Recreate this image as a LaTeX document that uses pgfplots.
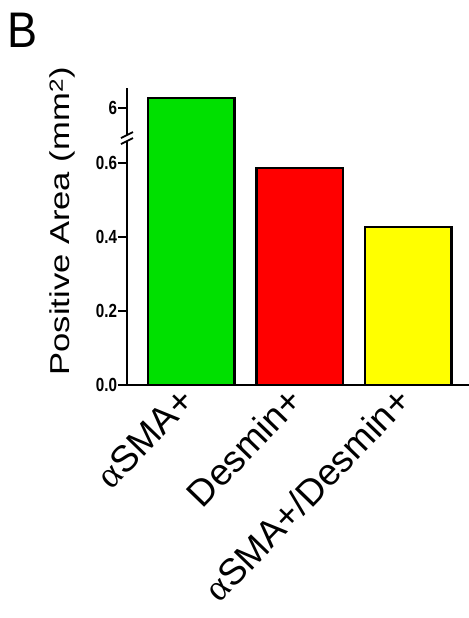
\documentclass[border=0pt]{standalone}
\usepackage{fontspec}
\setmainfont{Liberation Sans}
\newfontfamily\greekfont{Liberation Serif}
\usepackage{graphicx}
\usepackage{pgfplots}
\pgfplotsset{compat=1.18}
\definecolor{bargreen}{RGB}{0,224,0}
\definecolor{barred}{RGB}{255,0,0}
\definecolor{baryellow}{RGB}{255,255,0}
\begin{document}
\begin{tikzpicture}
\useasboundingbox (0,0) rectangle (469bp,-618bp);
\begin{axis}[
  at={(127bp,-385bp)}, anchor=south west,
  scale only axis, width=342bp, height=297bp,
  axis x line=bottom, axis y line=left,
  axis line style={-, line width=2bp},
  xmin=-0.594, xmax=2.562, ymin=0, ymax=6.5,
  y coord trafo/.code={\pgfmathparse{#1>1 ? 0.7486+(#1-6)*0.108 : #1}},
  ytick={0,0.2,0.4,0.6,6},
  yticklabels={0.0,0.2,0.4,0.6,6},
  xtick={0,1,2},
  xticklabels={{{\greekfont α}SMA+},{Desmin+},{{\greekfont α}SMA+/Desmin+}},
  tick align=outside,
  major tick length=9bp,
  xtick style={draw=none},
  ytick style={line width=1.8bp, black},
  yticklabel style={font=\bfseries\fontsize{19bp}{21bp}\selectfont, xscale=0.8, inner sep=0pt, xshift=-1bp},
  xticklabel style={font=\fontsize{37bp}{40bp}\selectfont, rotate=46, anchor=east, inner sep=0pt, xshift=-3bp, yshift=3bp},
  ylabel={Positive Area (mm\textsuperscript{2})},
  ylabel style={at={(rel axis cs:-0.1667,0.5505)}, anchor=base, rotate=0, yscale=0.79, font=\fontsize{34.6bp}{38bp}\selectfont, inner sep=0pt},
  clip=false,
]
\addplot[ybar, bar shift=0pt, bar width=0.8, fill=bargreen, draw=black, line width=2.5bp] coordinates {(0,6.25)};
\addplot[ybar, bar shift=0pt, bar width=0.8, fill=barred, draw=black, line width=2.5bp] coordinates {(1,0.586)};
\addplot[ybar, bar shift=0pt, bar width=0.8, fill=baryellow, draw=black, line width=2.5bp] coordinates {(2,0.427)};
% axis break
\fill[white] ([xshift=-3bp,yshift=-4.5bp]rel axis cs:0,0.8316) -- ([xshift=3bp,yshift=-1.5bp]rel axis cs:0,0.8316) -- ([xshift=3bp,yshift=4.5bp]rel axis cs:0,0.8316) -- ([xshift=-3bp,yshift=1.5bp]rel axis cs:0,0.8316) -- cycle;
\draw[line width=1.8bp] ([xshift=-6bp,yshift=-6bp]rel axis cs:0,0.8316) -- ([xshift=6bp,yshift=0bp]rel axis cs:0,0.8316);
\draw[line width=1.8bp] ([xshift=-6bp,yshift=0bp]rel axis cs:0,0.8316) -- ([xshift=6bp,yshift=6bp]rel axis cs:0,0.8316);
\end{axis}
\node[xscale=0.9, anchor=base west, inner sep=0pt, font=\fontsize{50bp}{54bp}\selectfont] at (7bp,-47bp) {B};
\end{tikzpicture}
\end{document}
